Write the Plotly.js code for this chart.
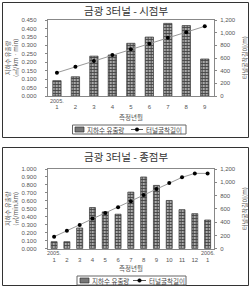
<!DOCTYPE html>
<html><head><meta charset="utf-8">
<script src="https://cdn.plot.ly/plotly-3.0.1.min.js"></script>
<style>html,body{margin:0;padding:0;background:#fff}#c{width:251px;height:287px}</style>
</head><body><div id="c"></div>
<script>
const topMonths = ["1","2","3","4","5","6","7","8","9"];
const topFlow = [0.091,0.114,0.236,0.243,0.312,0.349,0.430,0.417,0.219];
const topLength = [368,460,553,647,737,826,918,1008,1100];
const botMonths = ["1","2","3","4","5","6","7","8","9","10","11","12","1"];
const botFlow = [0.088,0.088,0.26,0.517,0.462,0.433,0.71,0.90,0.794,0.605,0.49,0.44,0.36];
const botLength = [181,272,358,454,539,625,716,807,897,988,1074,1134,1134];
const topTitle = "금광 3터널 - 시점부";
const botTitle = "금광 3터널 - 종점부";
const flowName = "지하수 유출량";
const lenName = "터널굴착길이";
const xTitle = "측정년월";
const rTitle = "터널굴착길이(m)";

const F = "Noto Sans CJK KR";
const NF = "Liberation Sans";
const txt = "#555";
const idx = a => a.map((_, i) => i + 1);
const barStyle = {color:"#999", line:{color:"#333", width:0.7},
  pattern:{shape:"+", fgcolor:"#444", bgcolor:"#aaa", size:3, solidity:0.5}};
const lineStyle = {color:"#999", width:1};
const markStyle = {color:"#000", size:4};

const traces = [
 {type:"bar", x:idx(topMonths), y:topFlow, name:flowName, xaxis:"x", yaxis:"y", width:0.45, marker:barStyle},
 {type:"scatter", mode:"lines+markers", x:idx(topMonths), y:topLength, name:lenName, xaxis:"x", yaxis:"y2", line:lineStyle, marker:markStyle},
 {type:"bar", x:idx(botMonths), y:botFlow, name:flowName, xaxis:"x2", yaxis:"y3", width:0.47, marker:barStyle},
 {type:"scatter", mode:"lines+markers", x:idx(botMonths), y:botLength, name:lenName, xaxis:"x2", yaxis:"y4", line:lineStyle, marker:markStyle}
];

const H = 287, W = 251;
const py = p => 1 - p / H, px = p => p / W;
const tf = {family:NF, size:6, color:txt};
const yf = {family:NF, size:5.5, color:txt};
const xdom = [px(47.7), px(214)];
function xax(labels, dom){
  return {domain:xdom, anchor:dom, range:[0.5, labels.length + 0.5], tickvals:idx(labels), ticktext:labels,
    showline:true, mirror:true, linecolor:"#888", linewidth:1, ticks:"", showgrid:false, zeroline:false,
    tickfont:tf, ticklabelstandoff:5};
}
function yl(range, dtick, dom, anchor){
  return {domain:dom, anchor:anchor, range:range, dtick:dtick, tickformat:".3f", showline:true, linecolor:"#888",
    ticks:"outside", ticklen:2, tickcolor:"#888", showgrid:false, zeroline:false, tickfont:tf, ticklabelstandoff:7};
}
function yr(dom, anchor, ov){
  return {domain:dom, anchor:anchor, overlaying:ov, side:"right", range:[0,1200], dtick:200, tickformat:",d",
    showline:true, linecolor:"#888", ticks:"outside", ticklen:2, tickcolor:"#888", showgrid:false, zeroline:false,
    tickfont:tf, ticklabelstandoff:2};
}
const d1 = [py(96), py(20)], d2 = [py(248.7), py(169)];

// text annotation helper with explicit anchors (auto anchors shift text near paper edges)
function T(text, x, y, font, extra){
  return Object.assign({text, xref:"paper", yref:"paper", x:px(x), y:py(y), xanchor:"center", yanchor:"middle",
    showarrow:false, font}, extra || {});
}

// manual compact legends (reference legend boxes are ~9px tall)
function legend(x0, x1, yc, iconX, txt1X, lineX0, lineX1, txt2X){
  const shapes = [
    {type:"rect", xref:"paper", yref:"paper", x0:px(x0), x1:px(x1), y0:py(yc+4.5), y1:py(yc-4.5), line:{color:"#666", width:1}, fillcolor:"#fff"},
    {type:"rect", xref:"paper", yref:"paper", x0:px(iconX), x1:px(iconX+9), y0:py(yc+2.5), y1:py(yc-2.5), line:{color:"#333", width:0.7}, fillcolor:"#777"},
    {type:"line", xref:"paper", yref:"paper", x0:px(lineX0), x1:px(lineX1), y0:py(yc), y1:py(yc), line:{color:"#555", width:1}},
    {type:"circle", xref:"paper", yref:"paper", x0:px((lineX0+lineX1)/2-1.8), x1:px((lineX0+lineX1)/2+1.8), y0:py(yc+1.8), y1:py(yc-1.8), line:{color:"#000", width:0.5}, fillcolor:"#000"}
  ];
  const lf = {family:F, size:6.5, color:"#444"};
  const ann = [
    T(flowName, txt1X, yc, lf, {xanchor:"left"}),
    T(lenName, txt2X, yc, lf, {xanchor:"left"})
  ];
  return {shapes, ann};
}
const L1 = legend(72.5, 186, 129.5, 75, 85, 131, 143, 144);
const L2 = legend(77, 186, 280.5, 80, 89.5, 133, 146, 147);
const af = s => ({family:F, size:s, color:txt});

const layout = {
  width:W, height:H, margin:{l:0, r:0, t:0, b:0}, paper_bgcolor:"#fff", plot_bgcolor:"#fff",
  showlegend:false, bargap:0,
  xaxis: xax(topMonths, "y"),
  yaxis: yl([0,0.45], 0.05, d1, "x"),
  yaxis2: yr(d1, "x", "y"),
  xaxis2: xax(botMonths, "y3"),
  yaxis3: yl([0,1.0], 0.1, d2, "x2"),
  yaxis4: yr(d2, "x2", "y3"),
  shapes:[
    {type:"rect", xref:"paper", yref:"paper", x0:px(2.5), x1:px(248.5), y0:py(137.5), y1:py(2.5), line:{color:"#333", width:1}},
    {type:"rect", xref:"paper", yref:"paper", x0:px(2.5), x1:px(248.5), y0:py(285.5), y1:py(147.5), line:{color:"#333", width:1}}
  ].concat(L1.shapes, L2.shapes),
  annotations:[
    T(topTitle, 126, 10.5, {family:F, size:10.5, color:"#333"}),
    T(botTitle, 126, 157, {family:F, size:10.5, color:"#333"}),
    T("지하수 유출량<br>(㎥/km · min)", 11, 58, af(6), {textangle:-90}),
    T("지하수 유출량<br>(㎥/min.km)", 11, 209, af(6), {textangle:-90}),
    T(rTitle, 244, 58, af(6), {textangle:-90}),
    T(rTitle, 244, 209, af(6), {textangle:-90}),
    T(xTitle, 131, 117, af(6.5)),
    T(xTitle, 131, 267.5, af(6.5)),
    {text:"2005.", xref:"x", yref:"paper", x:1, y:py(101), xanchor:"center", yanchor:"middle", showarrow:false, font:yf},
    {text:"2005.", xref:"x2", yref:"paper", x:1, y:py(252.5), xanchor:"center", yanchor:"middle", showarrow:false, font:yf},
    {text:"2006.", xref:"x2", yref:"paper", x:13, y:py(252.5), xanchor:"center", yanchor:"middle", showarrow:false, font:yf}
  ].concat(L1.ann, L2.ann)
};
Plotly.newPlot("c", traces, layout, {displayModeBar:false, staticPlot:true});
</script></body></html>
